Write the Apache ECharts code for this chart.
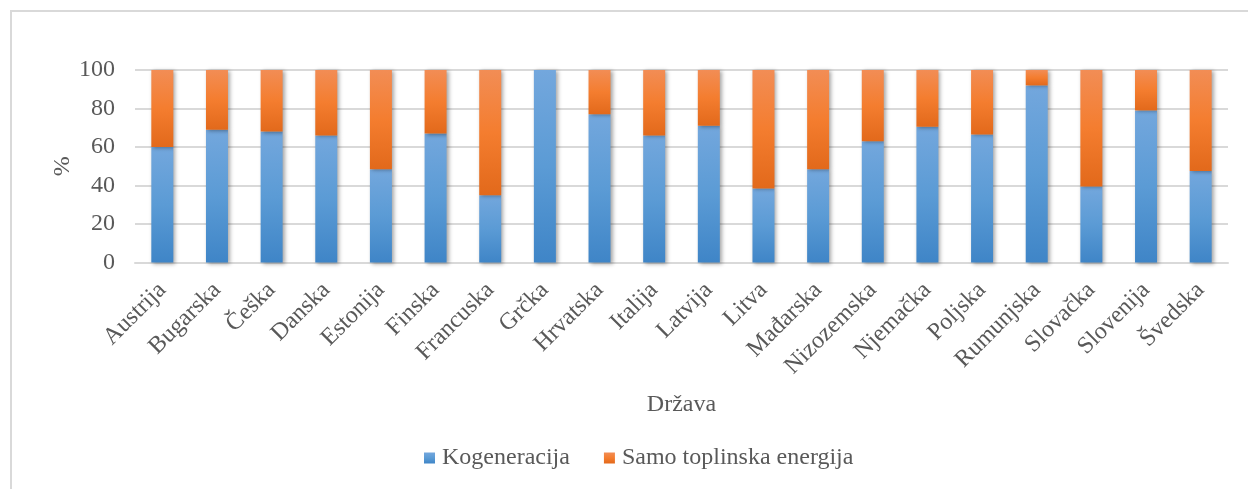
<!DOCTYPE html>
<html>
<head>
<meta charset="utf-8">
<script src="https://cdn.jsdelivr.net/npm/echarts@6/dist/echarts.min.js"></script>
<style>
html,body{margin:0;padding:0;background:#fff;}
#frame{position:absolute;left:10px;top:10px;width:1300px;height:600px;border-left:2px solid #d9d9d9;border-top:2px solid #d9d9d9;}
#chart{position:absolute;left:0;top:0;width:1248px;height:489px;}
</style>
</head>
<body>
<div id="frame"></div>
<div id="chart"></div>
<script>
const categories = ['Austrija','Bugarska','Češka','Danska','Estonija','Finska','Francuska','Grčka','Hrvatska','Italija','Latvija','Litva','Mađarska','Nizozemska','Njemačka','Poljska','Rumunjska','Slovačka','Slovenija','Švedska'];
const kogeneracija = [60, 69, 68, 66, 48.5, 67, 35, 100, 77, 66, 71, 38.5, 48.5, 63, 70.5, 66.5, 92, 39.5, 79, 47.5];
const samoToplinska = [40, 31, 32, 34, 51.5, 33, 65, 0, 23, 34, 29, 61.5, 51.5, 37, 29.5, 33.5, 8, 60.5, 21, 52.5];
const yTicks = [0, 20, 40, 60, 80, 100];
</script>
<script>
const chart = echarts.init(document.getElementById('chart'), null, {renderer: 'canvas'});
const font = 'Liberation Serif, Times New Roman, serif';
const txt = '#595959';
const fs = 24;
function grad(top, mid, bot) {
  return new echarts.graphic.LinearGradient(0, 0, 0, 1, [
    {offset: 0, color: top}, {offset: 0.5, color: mid}, {offset: 1, color: bot}
  ]);
}
const shadow = {shadowBlur: 4, shadowColor: 'rgba(0,0,0,0.35)', shadowOffsetX: 2, shadowOffsetY: 1};
chart.setOption({
  backgroundColor: 'transparent',
  animation: false,
  textStyle: {fontFamily: font, color: txt},
  grid: {left: 135, right: 20, top: 70, height: 192.5, containLabel: false},
  legend: {
    bottom: 14, left: 419, itemWidth: 11, itemHeight: 11, itemGap: 34,
    icon: 'rect',
    textStyle: {fontFamily: font, fontSize: fs, color: txt, padding: [0, 0, 0, 2]},
    data: ['Kogeneracija', 'Samo toplinska energija']
  },
  xAxis: {
    type: 'category', data: categories,
    name: 'Država', nameLocation: 'middle', nameGap: 130, nameMoveOverlap: false,
    nameTextStyle: {fontFamily: font, fontSize: fs, color: txt},
    axisLine: {lineStyle: {color: '#d9d9d9', width: 2}},
    axisTick: {show: false},
    axisLabel: {rotate: 45, fontFamily: font, fontSize: fs, color: txt, margin: 24, interval: 0}
  },
  yAxis: {
    type: 'value', min: 0, max: 100, interval: 20,
    name: '%', nameLocation: 'middle', nameGap: 60, nameRotate: 90, nameMoveOverlap: false,
    nameTextStyle: {fontFamily: font, fontSize: fs, color: txt},
    axisLine: {show: false}, axisTick: {show: false},
    axisLabel: {fontFamily: font, fontSize: fs, color: txt, margin: 20,
      formatter: v => yTicks.includes(v) ? String(v) : ''},
    splitLine: {lineStyle: {color: '#d9d9d9', width: 2}}
  },
  series: [
    {name: 'Kogeneracija', type: 'bar', stack: 't', barWidth: 22, data: kogeneracija,
     itemStyle: Object.assign({color: grad('#73a7dd', '#5b9bd5', '#3f85c7')}, shadow)},
    {name: 'Samo toplinska energija', type: 'bar', stack: 't', barWidth: 22, data: samoToplinska,
     itemStyle: Object.assign({color: grad('#f28d55', '#f47d2f', '#e2691b')}, shadow)}
  ]
});
</script>
</body>
</html>
